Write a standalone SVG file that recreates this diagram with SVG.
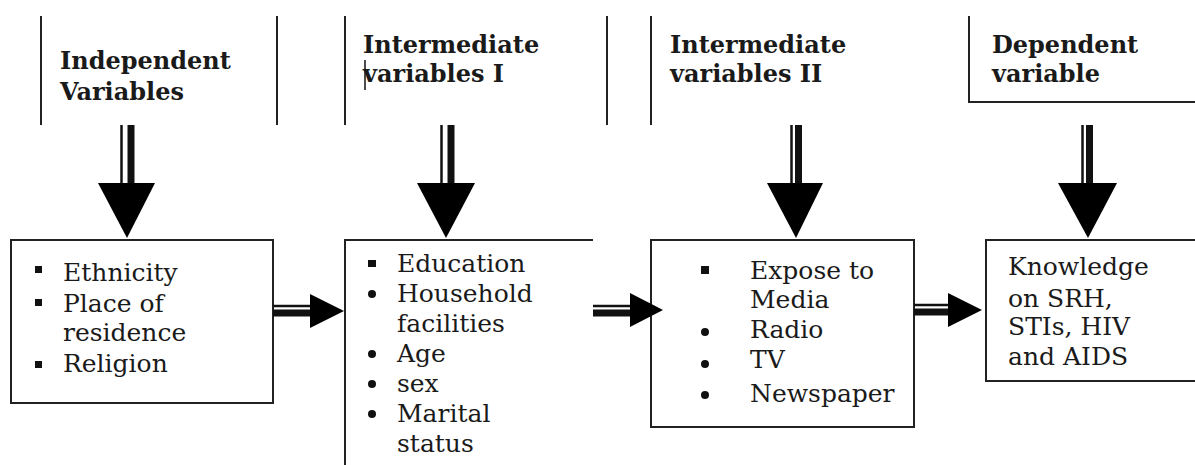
<svg xmlns="http://www.w3.org/2000/svg" width="1195" height="465" viewBox="0 0 1195 465">
<style>
.bg{fill:#ffffff}
.frame{fill:none;stroke:#222;stroke-width:2}
.hd{font-family:"DejaVu Serif","Liberation Serif",serif;font-weight:bold;font-size:24px;fill:#1a1a1a}
.tx{font-family:"DejaVu Serif","Liberation Serif",serif;font-size:25px;fill:#1a1a1a}
.thin{stroke:#111;stroke-width:2.5;fill:none}
.thick{stroke:#111;stroke-width:7;fill:none}
.head{fill:#000}
.bul{fill:#111}
</style>
<rect class="bg" x="0" y="0" width="1195" height="465"/>

<g id="header-independent">
  <line class="frame" x1="41" y1="16" x2="41" y2="125"/>
  <line class="frame" x1="277" y1="16" x2="277" y2="125"/>
  <text class="hd" x="60" y="69">Independent</text>
  <text class="hd" x="60" y="100">Variables</text>
</g>
<g id="header-intermediate-1">
  <line class="frame" x1="345" y1="16" x2="345" y2="125"/>
  <line stroke="#111" stroke-width="1.5" x1="365" y1="60" x2="365" y2="90"/>
  <text class="hd" x="363" y="53">Intermediate</text>
  <text class="hd" x="363" y="82">variables I</text>
</g>
<g id="header-intermediate-2">
  <line class="frame" x1="607" y1="16" x2="607" y2="125"/>
  <line class="frame" x1="651" y1="16" x2="651" y2="125"/>
  <text class="hd" x="670" y="53">Intermediate</text>
  <text class="hd" x="670" y="82">variables II</text>
</g>
<g id="header-dependent">
  <polyline class="frame" points="969,16 969,102 1196,102"/>
  <text class="hd" x="992" y="53">Dependent</text>
  <text class="hd" x="992" y="82">variable</text>
</g>

<g id="box-independent">
  <rect class="frame" x="11" y="240" width="262" height="163"/>
  <rect class="bul" x="35" y="266" width="7" height="7"/>
  <text class="tx" x="63" y="281">Ethnicity</text>
  <rect class="bul" x="35" y="299" width="7" height="7"/>
  <text class="tx" x="63" y="312">Place of</text>
  <text class="tx" x="63" y="341">residence</text>
  <rect class="bul" x="35" y="361" width="7" height="7"/>
  <text class="tx" x="63" y="372">Religion</text>
</g>

<g id="box-intermediate-1">
  <polyline class="frame" points="345,470 345,240 593,240"/>
  <rect class="bul" x="368" y="260" width="8" height="7"/>
  <text class="tx" x="397" y="272">Education</text>
  <circle class="bul" cx="372" cy="294" r="4"/>
  <text class="tx" x="397" y="302">Household</text>
  <text class="tx" x="397" y="332">facilities</text>
  <circle class="bul" cx="372" cy="354" r="4"/>
  <text class="tx" x="397" y="362">Age</text>
  <circle class="bul" cx="372" cy="384" r="4"/>
  <text class="tx" x="397" y="392">sex</text>
  <circle class="bul" cx="372" cy="414" r="4"/>
  <text class="tx" x="397" y="422">Marital</text>
  <text class="tx" x="397" y="452">status</text>
</g>

<g id="box-intermediate-2">
  <rect class="frame" x="651" y="240" width="263" height="187"/>
  <rect class="bul" x="701" y="266" width="8" height="8"/>
  <text class="tx" x="750" y="279">Expose to</text>
  <text class="tx" x="750" y="308">Media</text>
  <circle class="bul" cx="705" cy="332" r="4"/>
  <text class="tx" x="750" y="338">Radio</text>
  <circle class="bul" cx="705" cy="364" r="4"/>
  <text class="tx" x="750" y="368">TV</text>
  <circle class="bul" cx="705" cy="395" r="4"/>
  <text class="tx" x="750" y="402">Newspaper</text>
</g>

<g id="box-dependent">
  <rect class="frame" x="986" y="240" width="212" height="141"/>
  <text class="tx" x="1008" y="275">Knowledge</text>
  <text class="tx" x="1008" y="307">on SRH,</text>
  <text class="tx" x="1008" y="335">STIs, HIV</text>
  <text class="tx" x="1008" y="365">and AIDS</text>
</g>

<g id="connectors">
  <line class="thin" x1="121.5" y1="125" x2="121.5" y2="184"/>
  <line class="thick" x1="131" y1="125" x2="131" y2="184"/>
  <polygon class="head" points="98,183 155,183 127,238"/>

  <line class="thin" x1="441.5" y1="125" x2="441.5" y2="184"/>
  <line class="thick" x1="451" y1="125" x2="451" y2="184"/>
  <polygon class="head" points="417,183 475,183 446,238"/>

  <line class="thin" x1="791.5" y1="125" x2="791.5" y2="184"/>
  <line class="thick" x1="798.5" y1="125" x2="798.5" y2="184"/>
  <polygon class="head" points="767,183 823,183 796,238"/>

  <line class="thin" x1="1082.5" y1="125" x2="1082.5" y2="184"/>
  <line class="thick" x1="1089.5" y1="125" x2="1089.5" y2="184"/>
  <polygon class="head" points="1058,183 1117,183 1088,238"/>

  <line class="thin" x1="273" y1="306" x2="311" y2="306"/>
  <line class="thick" x1="273" y1="313" x2="311" y2="313"/>
  <polygon class="head" points="310,294 310,328 344,311"/>

  <line class="thin" x1="593" y1="306" x2="631" y2="306"/>
  <line class="thick" x1="593" y1="313" x2="631" y2="313"/>
  <polygon class="head" points="630,293 630,327 663,310"/>

  <line class="thin" x1="914" y1="305" x2="949" y2="305"/>
  <line class="thick" x1="914" y1="312" x2="949" y2="312"/>
  <polygon class="head" points="948,293 948,327 982,310"/>
</g>
</svg>
